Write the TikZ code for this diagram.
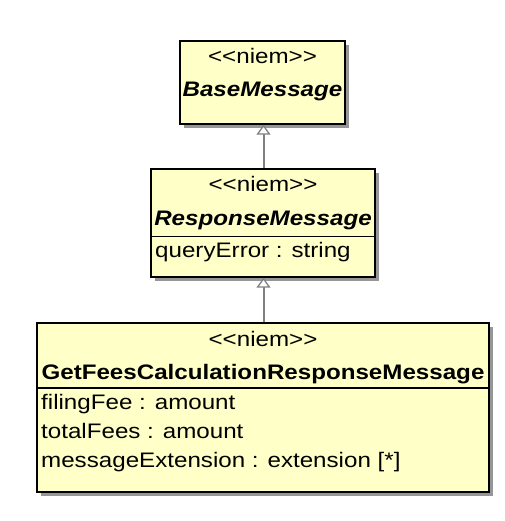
\documentclass[tikz,border=0pt]{standalone}
\usepackage{fontspec}
\setmainfont{Liberation Sans}[FakeStretch=1.15]
\usetikzlibrary{arrows.meta,shadows}
\definecolor{classfill}{RGB}{255,255,200}
\definecolor{linegray}{RGB}{128,128,128}
\definecolor{shadowgray}{RGB}{150,150,150}
\newcommand{\stereotxt}{<\kern0pt<niem>\kern0pt>}
\tikzset{
  classbox/.style={draw=black, line width=1.4pt, fill=classfill, rectangle, inner sep=0pt,
    drop shadow={shadow xshift=4pt, shadow yshift=-4pt, fill=shadowgray, opacity=1}},
  txt/.style={inner sep=0pt, font=\fontsize{21}{25}\selectfont},
  stereo/.style={txt, anchor=base},
  cname/.style={txt, anchor=base, font=\fontsize{21}{25}\selectfont\bfseries\itshape},
  cnamebold/.style={txt, anchor=base, font=\fontsize{21}{25}\selectfont\bfseries},
  attr/.style={txt, anchor=base west},
  divider/.style={draw=black, line width=1.2pt},
  gen/.style={draw=linegray, line width=2pt, -{Triangle[open, length=10pt, width=14pt, fill=white, line width=1.3pt]}}
}
\begin{document}
\begin{tikzpicture}[x=1pt, y=-1pt]
\useasboundingbox (0,0) rectangle (504,521);
% boxes
\node[classbox, minimum width=165pt, minimum height=83pt] (base) at (262.5,82.5) {};
\node[classbox, minimum width=224pt, minimum height=108pt] (resp) at (263,223) {};
\node[classbox, minimum width=452pt, minimum height=169pt] (gfc) at (263,407.5) {};
% dividers
\coordinate (d2) at (0,236.5);
\coordinate (d3) at (0,388);
\draw[divider] (resp.west |- d2) -- (resp.east |- d2);
\draw[divider] (gfc.west |- d3) -- (gfc.east |- d3);
% texts
\node[stereo] (s1) at (262.5,64) {\stereotxt};
\node[cname] (n1) at (262.5,97) {BaseMessage};
\node[stereo] (s2) at (263,192) {\stereotxt};
\node[cname] (n2) at (263,225) {ResponseMessage};
\node[attr] (a21) at (155,257) {queryError : string};
\node[stereo] (s3) at (263,346) {\stereotxt};
\node[cnamebold] (n3) at (263,379) {GetFeesCalculationResponseMessage};
\node[attr] (a31) at (41,409) {filingFee : amount};
\node[attr] (a32) at (41,438) {totalFees : amount};
\node[attr] (a33) at (41,467) {messageExtension : extension [*]};
% generalizations
\draw[gen] (resp.north -| 263.5,0) -- (base.south -| 263.5,0);
\draw[gen] (gfc.north -| 263.5,0) -- (resp.south -| 263.5,0);
\end{tikzpicture}
\end{document}
